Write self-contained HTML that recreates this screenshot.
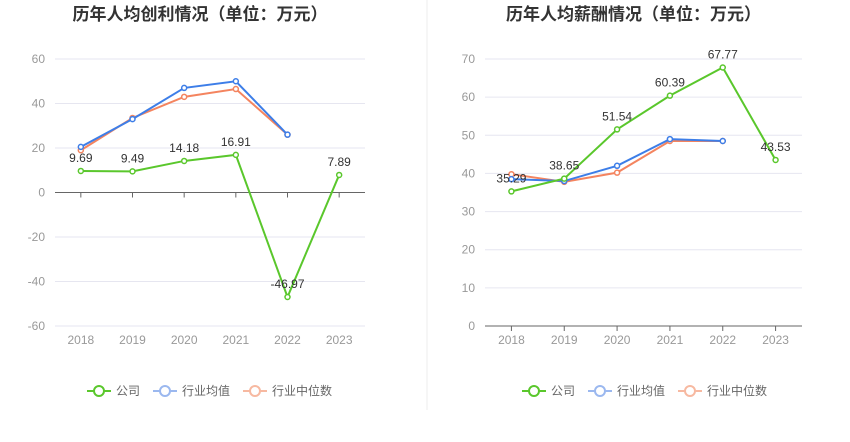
<!DOCTYPE html>
<html><head><meta charset="utf-8"><style>
body{margin:0;width:850px;height:437px;background:#fff;font-family:"Liberation Sans","Noto Sans CJK SC",sans-serif;overflow:hidden}
svg text{font-family:"Liberation Sans","Noto Sans CJK SC",sans-serif}
</style></head><body>
<svg id="c" width="850" height="437"></svg>
<script>
const years=["2018","2019","2020","2021","2022","2023"];
const leftCompany=[9.69,9.49,14.18,16.91,-46.97,7.89];
const leftAvg=[20.5,33,47,50,26,null];
const leftMed=[19,33.5,43,46.5,26,null];
const leftTicks=[60,40,20,0,-20,-40,-60];
const rightCompany=[35.29,38.65,51.54,60.39,67.77,43.53];
const rightAvg=[38.5,38,42,49,48.5,null];
const rightMed=[39.8,37.8,40.2,48.5,48.5,null];
const rightTicks=[70,60,50,40,30,20,10,0];
const NS="http://www.w3.org/2000/svg";
const svg=document.getElementById('c');
function mk(t,a,p){const e=document.createElementNS(NS,t);for(const k in a)e.setAttribute(k,a[k]);(p||svg).appendChild(e);return e;}
function chart(o){
 const g=mk('g',{});
 
 
 const y=v=>o.y0+(o.max-v)/(o.max-o.min)*(o.y1-o.y0);
 const x=i=>o.x0+(i+0.5)*(o.x1-o.x0)/years.length;
 const tt=mk('text',{x:(o.x0+o.x1)/2-10,y:20,'text-anchor':'middle','font-size':17,'font-weight':'bold',fill:'#333'},g);tt.textContent=o.title;
 
 o.ticks.forEach(v=>{
  mk('line',{x1:o.x0,x2:o.x1,y1:y(v),y2:y(v),stroke:v===0?'#666':'#e6e6f0','stroke-width':1},g);
  const t=mk('text',{x:o.x0-10,y:y(v)+4,'text-anchor':'end','font-size':12,fill:'#999'},g);t.textContent=v;
  
 });
 const base=o.min<0?y(0):y(o.min);
 if(o.min>=0)mk('line',{x1:o.x0,x2:o.x1,y1:base,y2:base,stroke:'#666'},g);
 years.forEach((yr,i)=>{
  mk('line',{x1:x(i),x2:x(i),y1:base,y2:base+5,stroke:'#666'},g);
  const t=mk('text',{x:x(i),y:o.y1+18,'text-anchor':'middle','font-size':12,fill:'#999'},g);t.textContent=yr;
  
 });
 [[o.med,'#f4845f','industry-median-line'],[o.avg,'#3d7ee8','industry-average-line'],[o.comp,'#5ac72c','company-line']].forEach(([d,c,n])=>{
  const pts=d.map((v,i)=>v==null?null:[x(i),y(v)]).filter(p=>p);
  const pl=mk('polyline',{points:pts.map(p=>p.join(',')).join(' '),fill:'none',stroke:c,'stroke-width':2},g);
  
  pts.forEach(p=>{const ci=mk('circle',{cx:p[0],cy:p[1],r:2.5,fill:'#fff',stroke:c,'stroke-width':1.5},g);
   });
 });
 o.comp.forEach((v,i)=>{const t=mk('text',{x:x(i),y:y(v)-9,'text-anchor':'middle','font-size':12,fill:'#333'},g);t.textContent=v.toFixed(2).replace(/0$/,'').replace(/\.0$/,'');t.textContent=String(v);
  });
 const lx=o.lx;
 [['公司','#5ac72c'],['行业均值','#9bb8ef'],['行业中位数','#f7b9a1']].forEach(([n,c],k)=>{
  const bx=lx+[0,66,156][k];
  const lg=mk('g',{},g);
  mk('line',{x1:bx,x2:bx+24,y1:391,y2:391,stroke:c,'stroke-width':2},lg);
  mk('circle',{cx:bx+12,cy:391,r:5,fill:'#fff',stroke:c,'stroke-width':2},lg);
  const t=mk('text',{x:bx+29,y:395,'font-size':12,fill:'#666'},lg);t.textContent=n;
 });
}
chart({name:'left-chart',title:'历年人均创利情况（单位：万元）',x0:55,x1:365,y0:59,y1:326,min:-60,max:60,ticks:leftTicks,comp:leftCompany,avg:leftAvg,med:leftMed,lx:87});
chart({name:'right-chart',title:'历年人均薪酬情况（单位：万元）',x0:485,x1:802,y0:59,y1:326,min:0,max:70,ticks:rightTicks,comp:rightCompany,avg:rightAvg,med:rightMed,lx:522});
const d=mk('line',{x1:427,x2:427,y1:0,y2:410,stroke:'#eee'});

</script>
</body></html>
